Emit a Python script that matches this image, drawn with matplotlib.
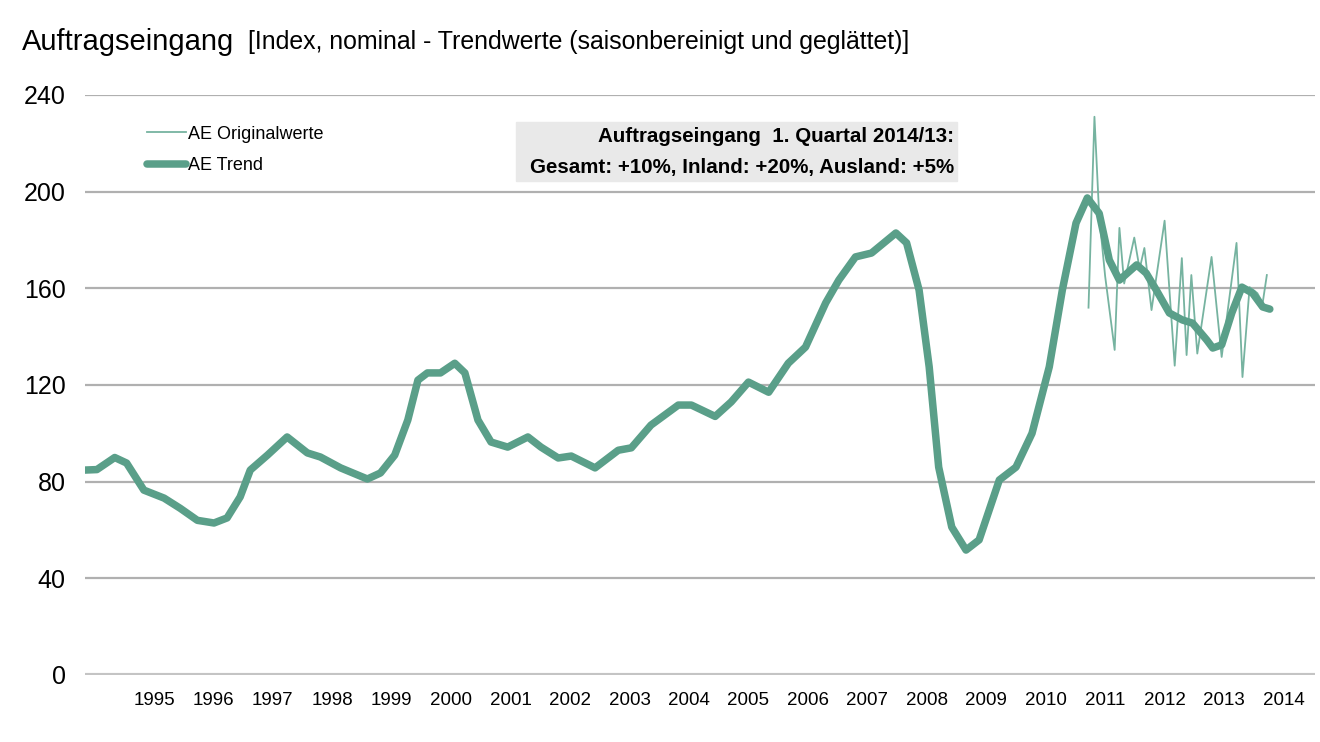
import matplotlib.pyplot as plt

plt.rcParams["font.family"] = ["Liberation Sans", "DejaVu Sans"]

# Trend (decimal year, index value)
trend_x = [1993.84, 1994.04, 1994.34, 1994.54, 1994.83, 1995.17, 1995.44, 1995.73,
           1996.01, 1996.23, 1996.45, 1996.62, 1996.91, 1997.24, 1997.58, 1997.80,
           1998.14, 1998.59, 1998.81, 1999.05, 1999.27, 1999.44, 1999.60, 1999.82,
           2000.06, 2000.23, 2000.45, 2000.67, 2000.95, 2001.29, 2001.51, 2001.80,
           2002.02, 2002.42, 2002.81, 2003.03, 2003.36, 2003.82, 2004.04, 2004.44,
           2004.71, 2005.00, 2005.34, 2005.67, 2005.96, 2006.30, 2006.52, 2006.80,
           2007.07, 2007.48, 2007.66, 2007.87, 2008.04, 2008.20, 2008.42, 2008.66,
           2008.88, 2009.22, 2009.50, 2009.77, 2010.06, 2010.28, 2010.51, 2010.70,
           2010.90, 2011.07, 2011.24, 2011.53, 2011.69, 2011.86, 2012.08, 2012.30,
           2012.47, 2012.71, 2012.81, 2012.96, 2013.13, 2013.30, 2013.48, 2013.65,
           2013.77]
trend_y = [84.8, 85.0, 90.0, 87.7, 76.5, 73.2, 69.0, 64.0,
           62.9, 65.0, 73.7, 84.8, 91.0, 98.5, 91.9, 90.2,
           85.7, 81.1, 83.6, 91.0, 105.5, 122.0, 125.0, 125.0,
           129.0, 125.0, 105.5, 96.4, 94.3, 98.5, 94.3, 89.8,
           90.6, 85.7, 93.0, 94.0, 103.4, 111.7, 111.7, 107.0,
           113.0, 121.2, 117.0, 129.0, 135.7, 154.0, 163.4, 173.0,
           174.6, 182.9, 178.8, 159.3, 127.5, 86.0, 61.2, 51.7,
           55.9, 80.7, 86.0, 100.0, 127.5, 159.3, 187.0, 197.4,
           191.0, 171.7, 163.4, 169.7, 166.3, 159.3, 149.8, 146.9,
           145.6, 138.6, 135.3, 136.6, 149.8, 160.5, 158.0, 152.3,
           151.4]

# Original values
orig_x = [2010.72, 2010.82, 2010.90, 2011.00, 2011.16, 2011.24, 2011.32, 2011.49,
          2011.58, 2011.66, 2011.78, 2012.00, 2012.17, 2012.29, 2012.37, 2012.45,
          2012.55, 2012.79, 2012.96, 2013.21, 2013.31, 2013.43, 2013.56, 2013.65,
          2013.72]
orig_y = [152.0, 231.0, 190.0, 165.0, 134.5, 185.0, 162.0, 181.0,
          168.0, 176.7, 151.0, 188.0, 128.0, 172.5, 132.4, 165.5,
          133.0, 173.0, 131.6, 178.8, 123.3, 160.5, 158.0, 154.0,
          165.5]

years = list(range(1995, 2015))
y_ticks = [0, 40, 80, 120, 160, 200, 240]

green = "#5a9f89"
green_light = "#76b3a0"

fig = plt.figure(figsize=(13.2, 7.42), dpi=100)
ax = fig.add_axes([85 / 1320, 67 / 742, 1230 / 1320, 580 / 742])

for v in y_ticks:
    ax.axhline(v, color="#c4c4c4" if v == 0 else "#b0b0b0",
               lw=3 if v == 0 else 1.6, zorder=1)

ax.plot(orig_x, orig_y, color=green_light, lw=1.3, zorder=2, label="AE Originalwerte")
ax.plot(trend_x, trend_y, color=green, lw=5.4, solid_capstyle="round",
        solid_joinstyle="round", zorder=3, label="AE Trend")

ax.set_xlim(1993.84, 2014.53)
ax.set_ylim(0, 240)
ax.set_yticks(y_ticks)
ax.set_xticks(years)
ax.tick_params(axis="y", length=0, pad=14, labelsize=18)
ax.tick_params(axis="x", length=0, pad=12, labelsize=13.5)
for s in ax.spines.values():
    s.set_visible(False)

leg = ax.legend(loc="upper left", bbox_to_anchor=(0.037, 0.975), frameon=False,
                fontsize=13, handlelength=2.2, handletextpad=0.1, labelspacing=0.8)

fig.text(22 / 1320, 1 - 42 / 742, "Auftragseingang", fontsize=21, va="center")
fig.text(248 / 1320, 1 - 42 / 742,
         "[Index, nominal - Trendwerte (saisonbereinigt und geglättet)]",
         fontsize=17.9, va="center")

fig.patches.append(plt.Rectangle((516 / 1320, 1 - 181 / 742), 441 / 1320, 59 / 742,
                                 transform=fig.transFigure, color="#e9e9e9", zorder=0))
fig.text(954 / 1320, 1 - 137 / 742, "Auftragseingang  1. Quartal 2014/13:",
         fontsize=14.8, fontweight="bold", ha="right", va="center")
fig.text(954 / 1320, 1 - 167 / 742, "Gesamt: +10%, Inland: +20%, Ausland: +5%",
         fontsize=14.8, fontweight="bold", ha="right", va="center")

fig.savefig("out.png", dpi=100)
